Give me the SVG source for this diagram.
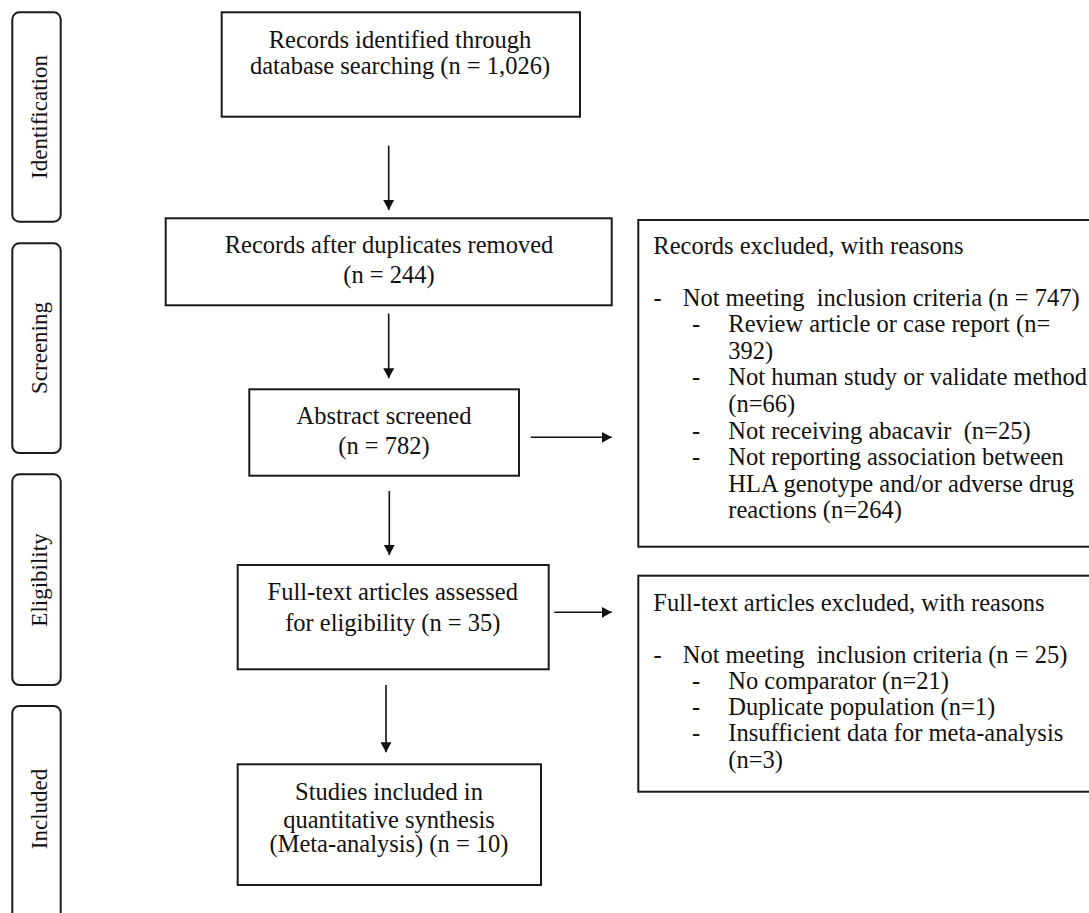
<svg xmlns="http://www.w3.org/2000/svg" width="1089" height="913" viewBox="0 0 1089 913">
<style>
.box{fill:#fff;stroke:#1a1a1a;stroke-width:2}
.side{fill:#fff;stroke:#1a1a1a;stroke-width:2}
.t{font-family:"Liberation Serif","Times New Roman",serif;font-size:24.5px;fill:#111;white-space:pre}
.c{text-anchor:middle}
.s{font-family:"Liberation Serif","Times New Roman",serif;font-size:23px;fill:#111;text-anchor:middle}
.ln{stroke:#111;stroke-width:1.6;fill:none;marker-end:url(#ah)}
</style>
<defs>
<marker id="ah" viewBox="0 0 10 11" refX="10" refY="5.5" markerWidth="10" markerHeight="11" markerUnits="userSpaceOnUse" orient="auto">
<path d="M0,0 L10,5.5 L0,11 Z" fill="#111"/>
</marker>
</defs>
<rect width="1089" height="913" fill="#fff"/>

<g id="phase-identification">
<rect class="side" x="12.3" y="12.3" width="48.4" height="209.4" rx="7"/>
<text class="s" transform="translate(46.5,117) rotate(-90)">Identification</text>
</g>
<g id="phase-screening">
<rect class="side" x="12.3" y="243.3" width="48.4" height="209.7" rx="7"/>
<text class="s" transform="translate(46.5,348) rotate(-90)">Screening</text>
</g>
<g id="phase-eligibility">
<rect class="side" x="12.3" y="474.3" width="48.4" height="210.7" rx="7"/>
<text class="s" transform="translate(46.5,580) rotate(-90)">Eligibility</text>
</g>
<g id="phase-included">
<rect class="side" x="12.3" y="706" width="48.4" height="230" rx="7"/>
<text class="s" transform="translate(46.5,809) rotate(-90)">Included</text>
</g>

<g id="identified">
<rect class="box" x="221.7" y="12.3" width="358.3" height="104.4"/>
<text class="t c" x="400" y="48.3">Records identified through</text>
<text class="t c" x="400" y="74">database searching (n = 1,026)</text>
</g>

<g id="deduplicated">
<rect class="box" x="165.7" y="218.3" width="446" height="87"/>
<text class="t c" x="389" y="253.3">Records after duplicates removed</text>
<text class="t c" x="389" y="282.7">(n = 244)</text>
</g>

<g id="abstract">
<rect class="box" x="249.3" y="389.3" width="269.7" height="86.4"/>
<text class="t c" x="384" y="424">Abstract screened</text>
<text class="t c" x="384" y="454">(n = 782)</text>
</g>

<g id="fulltext">
<rect class="box" x="237.7" y="565" width="311" height="104.3"/>
<text class="t c" x="392.8" y="600">Full-text articles assessed</text>
<text class="t c" x="392.8" y="630.7">for eligibility (n = 35)</text>
</g>

<g id="included">
<rect class="box" x="237.7" y="764.3" width="303.3" height="120.7"/>
<text class="t c" x="389" y="800">Studies included in</text>
<text class="t c" x="389" y="827.7">quantitative synthesis</text>
<text class="t c" x="389" y="852.3">(Meta-analysis) (n = 10)</text>
</g>

<g id="records-excluded">
<rect class="box" x="638.3" y="220" width="470" height="326.7"/>
<text class="t" x="653.3" y="253.5">Records excluded, with reasons</text>
<text class="t" x="653.5" y="305.5">-</text>
<text class="t" x="682.7" y="305.5">Not meeting  inclusion criteria (n = 747)</text>
<text class="t" x="692" y="332.1">-</text>
<text class="t" x="728.3" y="332.1">Review article or case report (n=</text>
<text class="t" x="728.3" y="358.7">392)</text>
<text class="t" x="692" y="385.3">-</text>
<text class="t" x="728.3" y="385.3">Not human study or validate method</text>
<text class="t" x="728.3" y="411.9">(n=66)</text>
<text class="t" x="692" y="438.5">-</text>
<text class="t" x="728.3" y="438.5">Not receiving abacavir  (n=25)</text>
<text class="t" x="692" y="465.1">-</text>
<text class="t" x="728.3" y="465.1">Not reporting association between</text>
<text class="t" x="728.3" y="491.7">HLA genotype and/or adverse drug</text>
<text class="t" x="728.3" y="518.3">reactions (n=264)</text>
</g>

<g id="fulltext-excluded">
<rect class="box" x="638.3" y="575.7" width="470" height="216"/>
<text class="t" x="653.3" y="611">Full-text articles excluded, with reasons</text>
<text class="t" x="653.5" y="662.5">-</text>
<text class="t" x="682.7" y="662.5">Not meeting  inclusion criteria (n = 25)</text>
<text class="t" x="692" y="688.8">-</text>
<text class="t" x="728.3" y="688.8">No comparator (n=21)</text>
<text class="t" x="692" y="715">-</text>
<text class="t" x="728.3" y="715">Duplicate population (n=1)</text>
<text class="t" x="692" y="741.2">-</text>
<text class="t" x="728.3" y="741.2">Insufficient data for meta-analysis</text>
<text class="t" x="728.3" y="767.5">(n=3)</text>
</g>

<g id="connectors">
<line class="ln" x1="388.7" y1="145.7" x2="388.7" y2="210"/>
<line class="ln" x1="388.7" y1="313.5" x2="388.7" y2="378.3"/>
<line class="ln" x1="389.3" y1="491" x2="389.3" y2="555"/>
<line class="ln" x1="386" y1="685" x2="386" y2="752.3"/>
<line class="ln" x1="530.7" y1="437.3" x2="611.7" y2="437.3"/>
<line class="ln" x1="554.3" y1="612.3" x2="611.7" y2="612.3"/>
</g>
</svg>
